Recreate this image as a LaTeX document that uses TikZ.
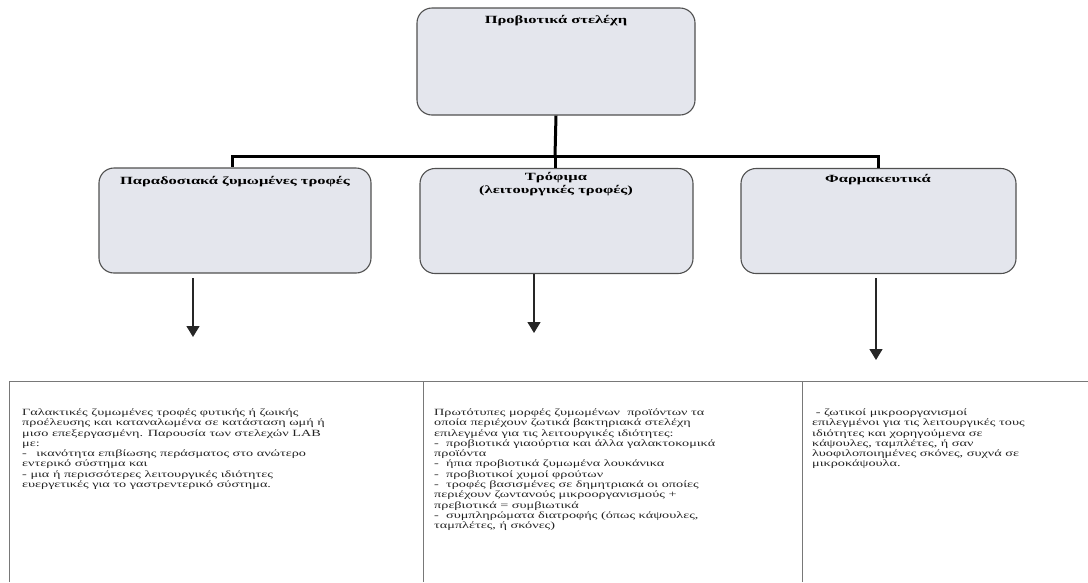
\documentclass[tikz,border=0pt]{standalone}
\usepackage{fontspec}
\setmainfont{Liberation Serif}
\newfontfamily\bodyfont[FakeStretch=1.5]{Liberation Serif}
\usetikzlibrary{arrows.meta}
\definecolor{boxfill}{RGB}{228,230,237}
\definecolor{boxline}{RGB}{80,80,80}
\definecolor{tableline}{RGB}{120,120,120}
\definecolor{bodytext}{RGB}{35,35,35}
\tikzset{
  cardbox/.style={draw=boxline, line width=1.1pt, fill=boxfill, rounded corners=15pt, inner sep=0pt},
  cardtitle/.style={anchor=north, inner sep=0pt, align=center, font=\bodyfont\bfseries\fontsize{11}{13}\selectfont},
  treeline/.style={line width=3pt, black},
  downarrow/.style={line width=1.4pt, black!85, -{Triangle[width=13pt,length=11pt]}},
  tablerule/.style={line width=1pt, tableline},
  coltext/.style={anchor=north west, inner sep=0pt, align=left, text=bodytext, font=\bodyfont\fontsize{9.5}{10.3}\selectfont}
}
\begin{document}
\begin{tikzpicture}[x=1pt,y=-1pt]
\useasboundingbox (0,0) rectangle (1088,582);
% boxes
\node[cardbox, minimum width=278pt, minimum height=107pt] (top) at (556,61.5) {};
\node[cardbox, minimum width=272pt, minimum height=105pt] (left) at (235,220.5) {};
\node[cardbox, minimum width=273pt, minimum height=105pt] (mid) at (556.5,221) {};
\node[cardbox, minimum width=275pt, minimum height=105pt] (right) at (878.5,221) {};
% titles
\node[cardtitle] (toptitle) at (556,15) {Προβιοτικά στελέχη};
\node[cardtitle] (lefttitle) at (235,176) {Παραδοσιακά ζυμωμένες τροφές};
\node[cardtitle] (midtitle) at (556,172) {Τρόφιμα\\(λειτουργικές τροφές)};
\node[cardtitle] (righttitle) at (878,174) {Φαρμακευτικά};
% tree connectors
\coordinate (bar) at (555,156);
\coordinate (barL) at (232,156);
\coordinate (barR) at (878,156);
\draw[treeline] (top.south) -- (bar);
\draw[treeline, line cap=rect] (barL) -- (barR);
\draw[treeline] (barL) -- (barL |- left.north);
\draw[treeline] (bar) -- (bar |- mid.north);
\draw[treeline] (barR) -- (barR |- right.north);
% arrows
\coordinate (aLs) at (193,278); \coordinate (aLe) at (193,337);
\coordinate (aMs) at (534,274); \coordinate (aMe) at (534,333);
\coordinate (aRs) at (876,278); \coordinate (aRe) at (876,360);
\draw[downarrow] (aLs) -- (aLe);
\draw[downarrow] (aMs) -- (aMe);
\draw[downarrow] (aRs) -- (aRe);
% table
\draw[tablerule] (9,582) -- (9,381) -- (1088,381);
\draw[tablerule] (423,381) -- (423,582);
\draw[tablerule] (802,381) -- (802,582);
% texts
\node[coltext] (c1) at (22,408.5) {Γαλακτικές ζυμωμένες τροφές φυτικής ή ζωικής\\
προέλευσης και καταναλωμένα σε κατάσταση ωμή ή\\
μισο επεξεργασμένη. Παρουσία των στελεχών LAB\\
με:\\
-\quad ικανότητα επιβίωσης περάσματος στο ανώτερο\\
εντερικό σύστημα και\\
- μια ή περισσότερες λειτουργικές ιδιότητες\\
ευεργετικές για το γαστρεντερικό σύστημα.};
\node[coltext] (c2) at (434,408.5) {Πρωτότυπες μορφές ζυμωμένων\ \ προϊόντων τα\\
οποία περιέχουν ζωτικά βακτηριακά στελέχη\\
επιλεγμένα για τις λειτουργικές ιδιότητες:\\
-\ \ προβιοτικά γιαούρτια και άλλα γαλακτοκομικά\\
προϊόντα\\
-\ \ ήπια προβιοτικά ζυμωμένα λουκάνικα\\
-\ \ προβιοτικοί χυμοί φρούτων\\
-\ \ τροφές βασισμένες σε δημητριακά οι οποίες\\
περιέχουν ζωντανούς μικροοργανισμούς +\\
πρεβιοτικά = συμβιωτικά\\
-\ \ συμπληρώματα διατροφής (όπως κάψουλες,\\
ταμπλέτες, ή σκόνες)};
\node[coltext] (c3) at (812,408.5) {\ - ζωτικοί μικροοργανισμοί\\
επιλεγμένοι για τις λειτουργικές τους\\
ιδιότητες και χορηγούμενα σε\\
κάψουλες, ταμπλέτες, ή σαν\\
λυοφιλοποιημένες σκόνες, συχνά σε\\
μικροκάψουλα.};
\end{tikzpicture}
\end{document}
